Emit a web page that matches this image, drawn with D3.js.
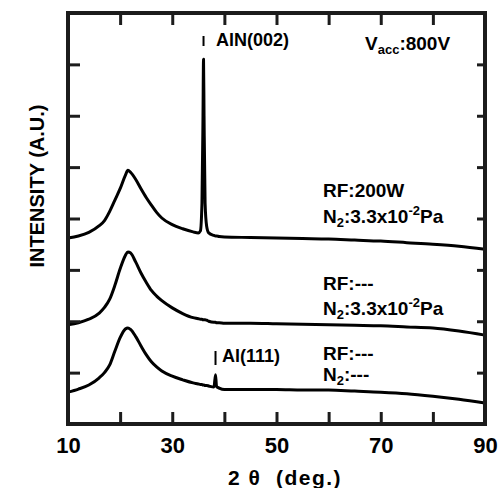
<!DOCTYPE html>
<html>
<head>
<meta charset="utf-8">
<script src="https://cdn.jsdelivr.net/npm/d3@7"></script>
<style>
  body { margin: 0; background: #fff; overflow: hidden; }
  svg { display: block; }
  text { font-family: "Liberation Sans", Arial, sans-serif; font-weight: bold; fill: #000; }
</style>
</head>
<body>
<div class="xrd"></div>
<script>
// 2 theta grid (deg.)
var angles = [10, 12, 14, 16, 17, 18, 19, 20, 21, 21.5, 22, 23, 24, 25, 26, 27, 28, 30, 32, 34, 35,
              35.4, 35.7, 35.9, 36, 36.1, 36.3, 36.6, 37, 38, 38.3, 38.5, 39, 40,
              45, 50, 55, 60, 65, 70, 75, 80, 85, 90];

// intensities (a.u., stacked with offsets as drawn)
var rf200W = [3.62, 3.66, 3.73, 3.86, 3.96, 4.14, 4.36, 4.58, 4.84, 4.94, 4.90, 4.76, 4.58, 4.41, 4.26, 4.12, 4.01, 3.88, 3.80, 3.74, 3.72,
              3.76, 4.30, 6.00, 7.10, 6.00, 4.30, 3.85, 3.72, 3.67, 3.66, 3.66, 3.65, 3.64,
              3.63, 3.62, 3.61, 3.60, 3.58, 3.56, 3.53, 3.50, 3.46, 3.40];
var rfOffN2 = [1.93, 1.97, 2.04, 2.16, 2.27, 2.43, 2.70, 3.02, 3.28, 3.35, 3.33, 3.15, 2.94, 2.76, 2.60, 2.49, 2.40, 2.26, 2.15, 2.07, 2.05,
               2.04, 2.04, 2.03, 2.03, 2.03, 2.03, 2.02, 2.00, 1.98, 1.98, 1.97, 1.97, 1.96,
               1.96, 1.95, 1.94, 1.93, 1.92, 1.91, 1.89, 1.87, 1.81, 1.73];
var rfOffN2Off = [0.62, 0.68, 0.76, 0.90, 1.00, 1.15, 1.42, 1.68, 1.85, 1.87, 1.84, 1.70, 1.52, 1.35, 1.21, 1.11, 1.03, 0.93, 0.86, 0.80, 0.78,
                  0.77, 0.77, 0.76, 0.76, 0.76, 0.75, 0.75, 0.74, 0.72, 0.96, 0.73, 0.70, 0.67,
                  0.67, 0.67, 0.66, 0.66, 0.64, 0.62, 0.59, 0.54, 0.48, 0.41];

var xTicks = [10, 20, 30, 40, 50, 60, 70, 80, 90];
var xLabels = [10, 30, 50, 70, 90];
var yTicks = [1, 2, 3, 4, 5, 6, 7];

var margin = {top: 13, right: 14, bottom: 64, left: 68},
    width = 499 - margin.left - margin.right,
    height = 488 - margin.top - margin.bottom;

var root = d3.select(".xrd")
  .append("svg")
    .attr("width", width + margin.left + margin.right)
    .attr("height", height + margin.top + margin.bottom);

var svg = root.append("g")
    .attr("transform", "translate(" + margin.left + "," + margin.top + ")");

var x = d3.scaleLinear().domain([10, 90]).range([0, width]);
var y = d3.scaleLinear().domain([0, 8]).range([height, 0]);

// curves
var line = d3.line()
  .x(function(d) { return x(d[0]); })
  .y(function(d) { return y(d[1]); })
  .curve(d3.curveMonotoneX);

[rf200W, rfOffN2, rfOffN2Off].forEach(function(vals) {
  svg.append("path")
    .datum(angles.map(function(a, i) { return [a, vals[i]]; }))
    .attr("fill", "none")
    .attr("stroke", "#000")
    .attr("stroke-width", 3)
    .attr("stroke-linejoin", "round")
    .attr("d", line);
});

// peak markers
svg.append("line")
  .attr("x1", x(36)).attr("x2", x(36))
  .attr("y1", 23).attr("y2", 33)
  .attr("stroke", "#000").attr("stroke-width", 2);
svg.append("line")
  .attr("x1", x(38.3)).attr("x2", x(38.3))
  .attr("y1", 338).attr("y2", 352)
  .attr("stroke", "#000").attr("stroke-width", 2);

// annotations
function label(xp, yp, size) {
  return root.append("text").attr("x", xp).attr("y", yp).attr("font-size", size + "px");
}

label(216, 46, 18).text("AlN(002)");
label(222, 362, 18).text("Al(111)");

var v = label(365, 50, 19);
v.append("tspan").text("V");
v.append("tspan").attr("font-size", "13px").attr("dy", 4).text("acc");
v.append("tspan").attr("dy", -4).text(":800V");

function n2(xp, yp, rest) {
  var t = label(xp, yp, 19);
  t.append("tspan").text("N");
  t.append("tspan").attr("font-size", "13px").attr("dy", 4).text("2");
  t.append("tspan").attr("dy", -4).text(rest);
  return t;
}
function n2Pa(xp, yp) {
  var t = n2(xp, yp, ":3.3x10");
  t.append("tspan").attr("font-size", "13px").attr("dy", -8).text("-2");
  t.append("tspan").attr("dy", 8).text("Pa");
}

label(323, 197, 19).text("RF:200W");
n2Pa(323, 223);
label(323, 290, 19).text("RF:---");
n2Pa(323, 315);
label(323, 360, 19).text("RF:---");
n2(323, 381, ":---");

// axis titles
root.append("text")
  .attr("x", 285)
  .attr("y", 485)
  .attr("text-anchor", "middle")
  .attr("font-size", "21px")
  .style("white-space", "pre")
  .style("letter-spacing", "1.5px")
  .text("2 θ  (deg.)");

root.append("text")
  .attr("transform", "translate(44,186) rotate(-90)")
  .attr("text-anchor", "middle")
  .attr("font-size", "20px")
  .text("INTENSITY (A.U.)");

// axes drawn last, ticks pointing inward
var frame = root.append("g")
    .attr("transform", "translate(" + margin.left + "," + margin.top + ")");

function inkTicks(g) {
  g.select(".domain").remove();
  g.selectAll(".tick line").attr("stroke", "#1c1c1c").attr("stroke-width", 3);
}

var xAxis = frame.append("g")
  .attr("transform", "translate(0," + height + ")")
  .call(d3.axisBottom(x).tickValues(xTicks).tickSize(-12).tickPadding(13)
    .tickFormat(function(d) { return xLabels.indexOf(d) >= 0 ? d : ""; }));
inkTicks(xAxis);
xAxis.selectAll("text")
  .attr("font-size", "22px")
  .attr("fill", "#000")
  .style("font-family", "'Liberation Sans', Arial, sans-serif")
  .style("font-weight", "bold");

inkTicks(frame.append("g")
  .call(d3.axisTop(x).tickValues(xTicks).tickSize(-12).tickFormat("")));
inkTicks(frame.append("g")
  .call(d3.axisLeft(y).tickValues(yTicks).tickSize(-12).tickFormat("")));
inkTicks(frame.append("g")
  .attr("transform", "translate(" + width + ",0)")
  .call(d3.axisRight(y).tickValues(yTicks).tickSize(-8).tickFormat("")));

frame.append("rect")
  .attr("x", 0).attr("y", 0)
  .attr("width", width).attr("height", height)
  .attr("fill", "none")
  .attr("stroke", "#1c1c1c")
  .attr("stroke-width", 4);
</script>
</body>
</html>
